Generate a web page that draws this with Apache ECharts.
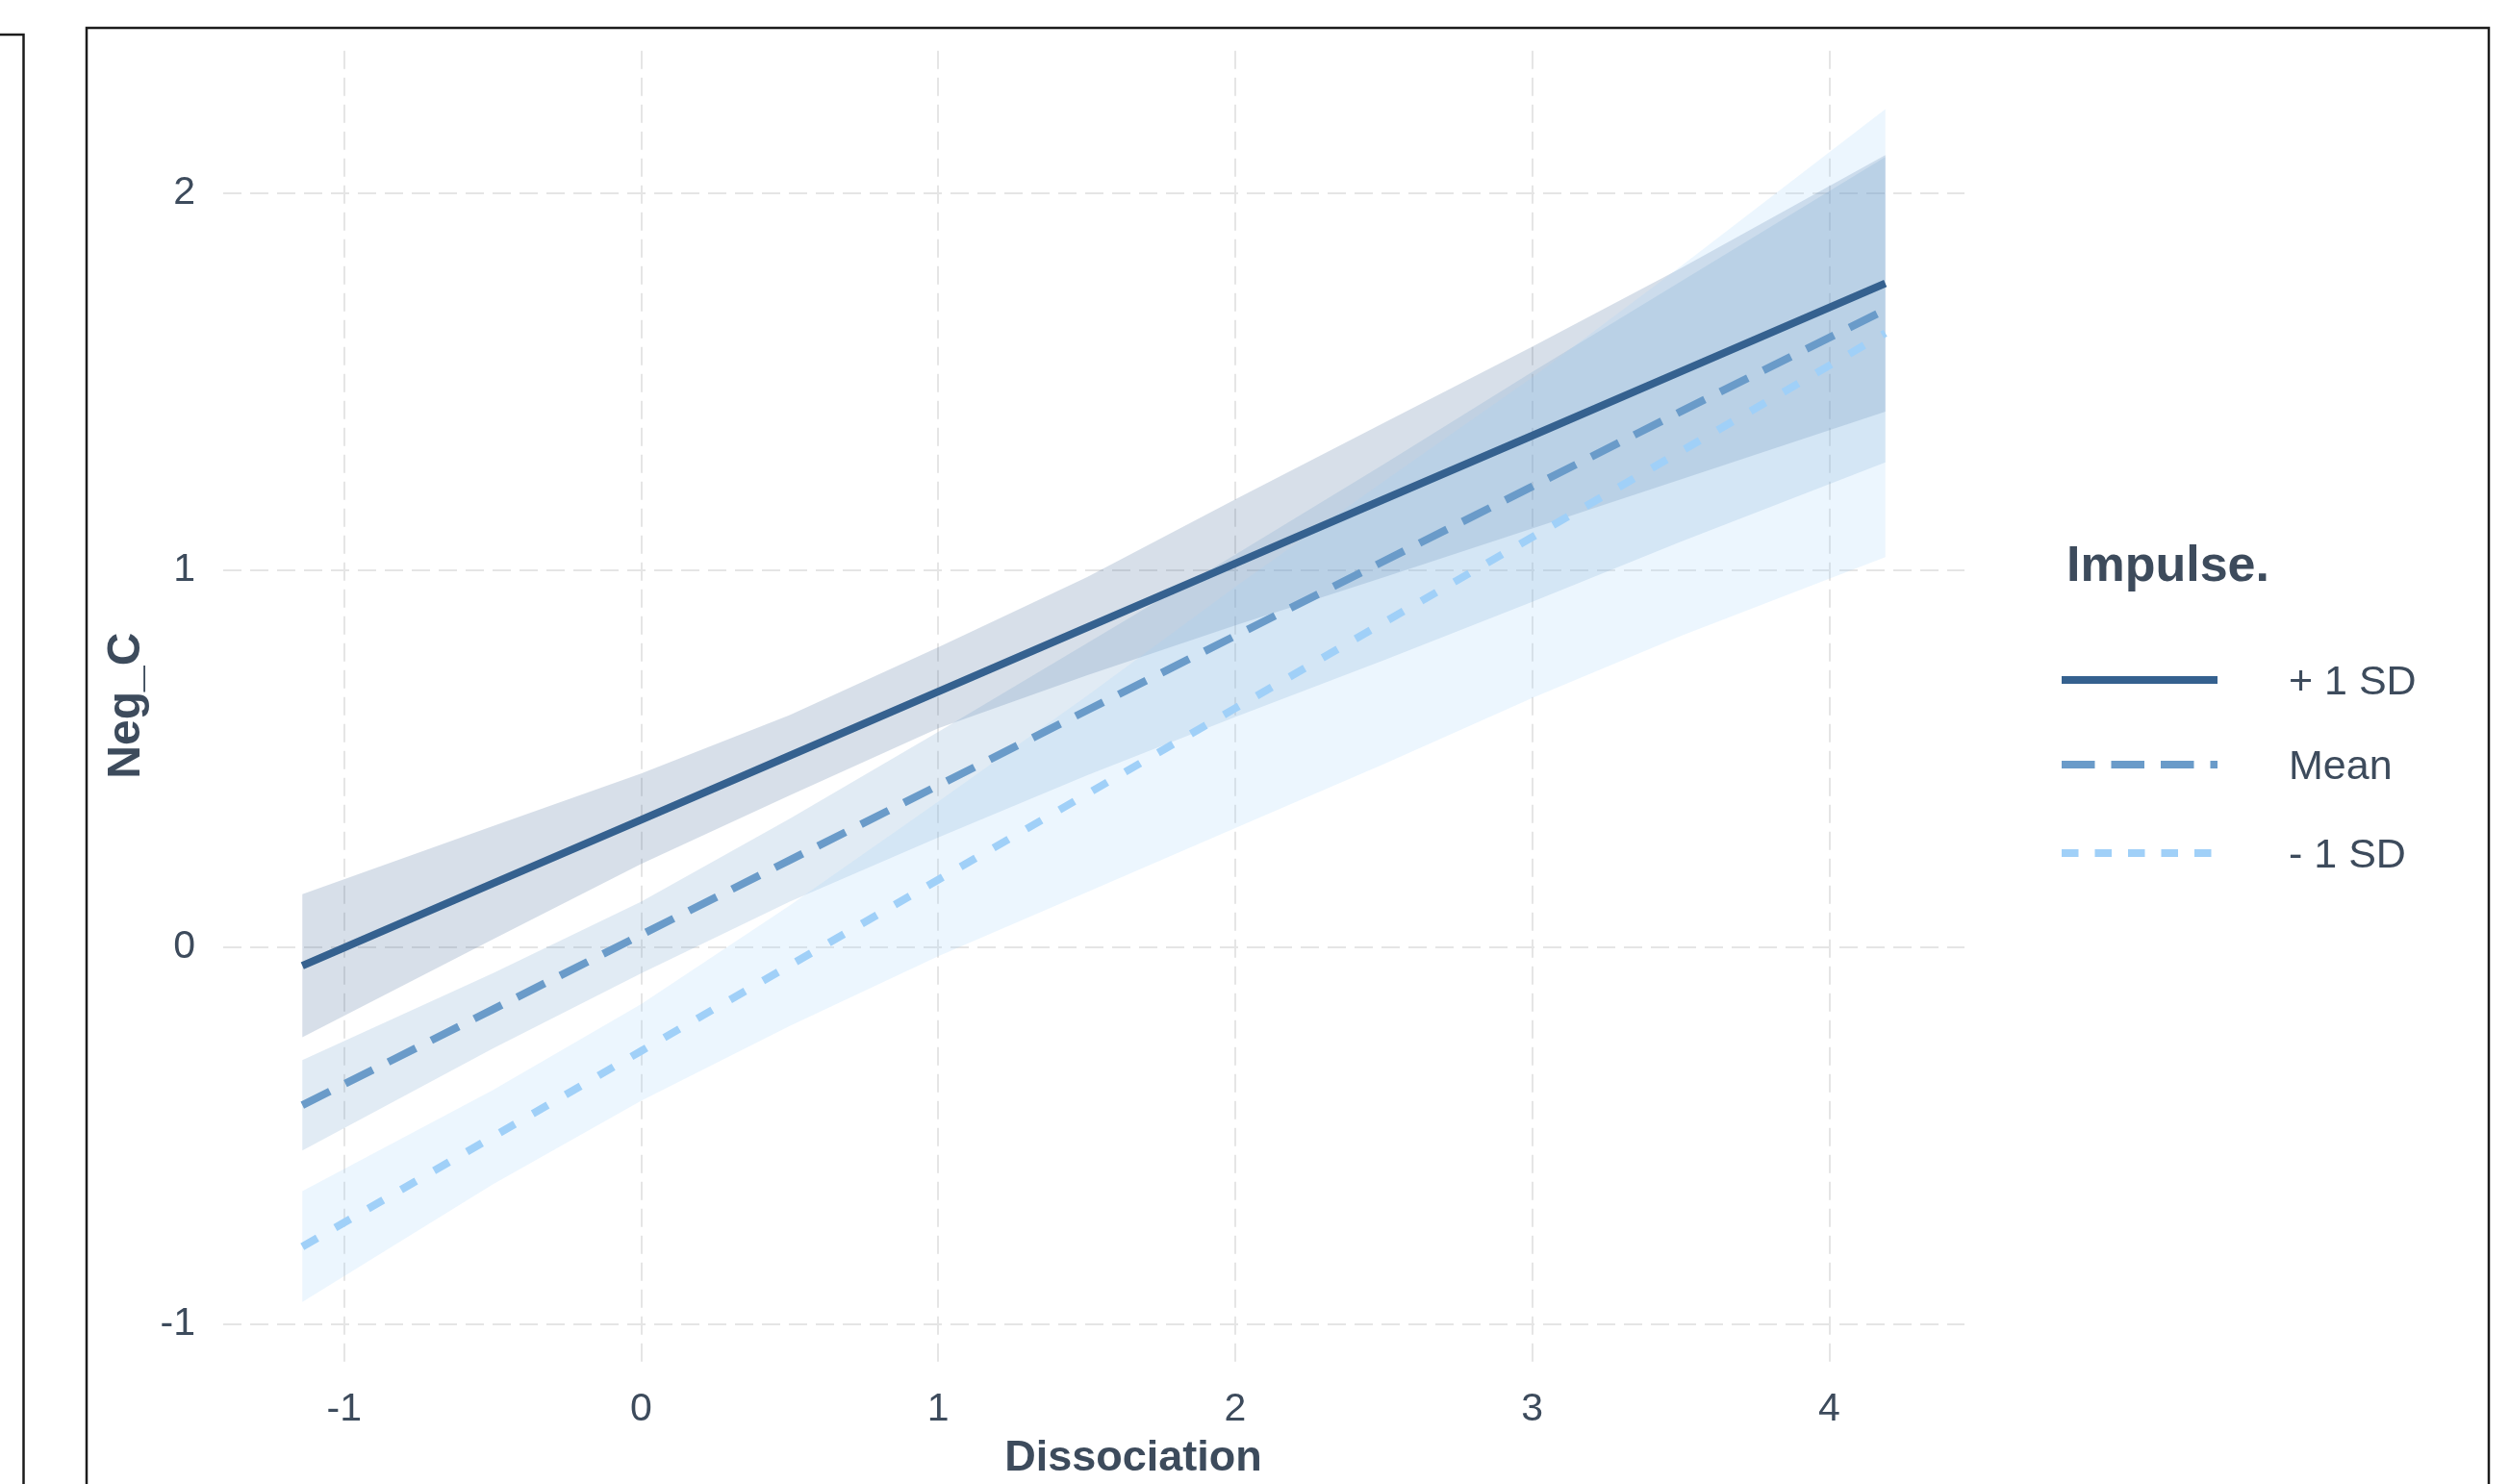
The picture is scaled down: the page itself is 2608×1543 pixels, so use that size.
<!DOCTYPE html>
<html>
<head>
<meta charset="utf-8">
<script src="https://cdn.jsdelivr.net/npm/echarts@6/dist/echarts.min.js"></script>
<style>
html,body{margin:0;padding:0;background:#ffffff;}
#chart{width:2608px;height:1543px;}
</style>
</head>
<body>
<div id="chart"></div>
<script>
// ---- data ----
const xVals      = [-1.141, -0.5, 0, 0.5, 1, 1.5, 2, 2.5, 3, 3.5, 4.189];

const hiLine     = [-0.05, 0.168, 0.337, 0.507, 0.677, 0.847, 1.017, 1.187, 1.356, 1.526, 1.76];
const hiUpper    = [0.14, 0.32, 0.46, 0.615, 0.795, 0.98, 1.187, 1.39, 1.592, 1.80, 2.10];
const hiLower    = [-0.24, 0.02, 0.22, 0.402, 0.58, 0.72, 0.853, 0.98, 1.11, 1.24, 1.42];

const meanLine   = [-0.42, -0.166, 0.032, 0.23, 0.428, 0.627, 0.825, 1.023, 1.221, 1.42, 1.69];
const meanUpper  = [-0.30, -0.07, 0.12, 0.34, 0.57, 0.805, 1.04, 1.28, 1.525, 1.765, 2.095];
const meanLower  = [-0.54, -0.27, -0.07, 0.12, 0.29, 0.455, 0.61, 0.76, 0.915, 1.075, 1.285];

const loLine     = [-0.795, -0.504, -0.276, -0.049, 0.178, 0.405, 0.633, 0.86, 1.087, 1.314, 1.628];
const loUpper    = [-0.648, -0.38, -0.152, 0.11, 0.385, 0.665, 0.955, 1.235, 1.51, 1.805, 2.222];
const loLower    = [-0.942, -0.63, -0.408, -0.21, -0.025, 0.145, 0.315, 0.485, 0.66, 0.825, 1.034];

const xTicks = [-1, 0, 1, 2, 3, 4];
const yTicks = [-1, 0, 1, 2];
const seriesNames = ['+ 1 SD', 'Mean', '- 1 SD'];
const legendTitle = 'Impulse.';
const xTitle = 'Dissociation';
const yTitle = 'Neg_C';

// ---- styling ----
const colHi = '#35618f', colMean = '#6a9bc9', colLo = '#a0d0f8';
const bandHi = 'rgba(53,97,143,0.2)', bandMean = 'rgba(106,155,201,0.2)', bandLo = 'rgba(160,208,248,0.2)';
const txt = '#3d4b5c';
const FONT = '"Liberation Sans", Arial, Helvetica, sans-serif';
const LW = 8;

function pairs(ys){ return xVals.map((x,i)=>[x, ys[i]]); }

function band(name, lower, upper, color){
  return {
    name: name, type: 'custom', z: 1, silent: true, animation: false,
    coordinateSystem: 'cartesian2d',
    data: xVals.map((x,i)=>[x, lower[i], upper[i]]),
    encode: {x: 0, y: [1, 2]},
    renderItem: function(params, api){
      if (params.dataIndex !== 0) return;
      const pts = [];
      for (let i = 0; i < xVals.length; i++) pts.push(api.coord([xVals[i], upper[i]]));
      for (let i = xVals.length - 1; i >= 0; i--) pts.push(api.coord([xVals[i], lower[i]]));
      return {type: 'polygon', shape: {points: pts}, style: {fill: color}};
    }
  };
}

function lineSeries(name, ys, color, dash, extra){
  const s = {
    name: name, type: 'line', z: 3, data: pairs(ys),
    showSymbol: false, symbol: 'none', smooth: false, silent: true, animation: false,
    lineStyle: {color: color, width: LW, type: dash, cap: 'butt'}
  };
  return Object.assign(s, extra || {});
}

const gridLineStyle = {color: '#e5e5e5', width: 2, type: [19, 9]};
const intFmt = v => (Math.abs(v - Math.round(v)) < 1e-9 ? String(Math.round(v)) : '');

const chart = echarts.init(document.getElementById('chart'), null, {renderer: 'canvas', width: 2608, height: 1543});

const legendX1 = 2143, legendX2 = 2305, legendTextX = 2379;
const legendRows = [
  {y: 707, ty: 710, color: colHi, dash: null},
  {y: 795, ty: 798, color: colMean, dash: [34.5, 17]},
  {y: 887, ty: 890, color: colLo, dash: [17.5, 17]}
];

const graphics = [
  // outer frames
  {type: 'rect', silent: true, z: 100, shape: {x: 90, y: 29, width: 2497, height: 1600},
   style: {fill: 'none', stroke: '#1c1c1c', lineWidth: 2.5}},
  {type: 'polyline', silent: true, z: 100, shape: {points: [[0, 36], [24.5, 36], [24.5, 1600]]},
   style: {fill: 'none', stroke: '#1c1c1c', lineWidth: 2.5}},
  // legend title
  {type: 'text', silent: true, z: 100, x: 2148, y: 590,
   style: {text: legendTitle, font: 'bold 52px ' + FONT, fill: txt, textAlign: 'left', textVerticalAlign: 'middle', verticalAlign: 'middle'}}
];
legendRows.forEach((r, i) => {
  graphics.push({type: 'line', silent: true, z: 100,
    shape: {x1: legendX1, y1: r.y, x2: legendX2, y2: r.y},
    style: {stroke: r.color, lineWidth: LW, lineDash: r.dash, lineCap: 'butt'}});
  graphics.push({type: 'text', silent: true, z: 100, x: legendTextX, y: r.ty,
    style: {text: seriesNames[i], font: '43px ' + FONT, fill: txt, textAlign: 'left', textVerticalAlign: 'middle', verticalAlign: 'middle'}});
});

chart.setOption({
  backgroundColor: '#ffffff',
  animation: false,
  textStyle: {fontFamily: FONT},
  grid: {left: 232, top: 51.5, width: 1810, height: 1364.3, outerBoundsMode: 'none', containLabel: false},
  xAxis: {
    type: 'value', min: -1.4075, max: 4.4555,
    axisLine: {show: false}, axisTick: {show: false, customValues: xTicks},
    splitLine: {show: false},
    axisLabel: {customValues: xTicks, formatter: intFmt, margin: 29, fontSize: 41, color: txt, fontFamily: FONT},
    name: xTitle, nameLocation: 'middle', nameGap: 78,
    nameTextStyle: {fontSize: 45, fontWeight: 'bold', color: txt, fontFamily: FONT, padding: [0, 0, 0, 82]}
  },
  yAxis: {
    type: 'value', min: -1.1002, max: 2.3802, splitNumber: 4,
    axisLine: {show: false}, axisTick: {show: false, customValues: yTicks},
    splitLine: {show: false},
    axisLabel: {customValues: yTicks, formatter: intFmt, margin: 29, fontSize: 41, color: txt, fontFamily: FONT},
    name: yTitle, nameLocation: 'middle', nameGap: 74, nameRotate: 90,
    nameTextStyle: {fontSize: 48, fontWeight: 'bold', color: txt, fontFamily: FONT}
  },
  series: [
    band('band + 1 SD', hiLower, hiUpper, bandHi),
    band('band Mean', meanLower, meanUpper, bandMean),
    band('band - 1 SD', loLower, loUpper, bandLo),
    lineSeries(seriesNames[0], hiLine, colHi, 'solid', {
      markLine: {
        z: 0, silent: true, animation: false, symbol: ['none', 'none'],
        label: {show: false}, emphasis: {disabled: true},
        lineStyle: gridLineStyle,
        data: xTicks.map(v => ({xAxis: v})).concat(yTicks.map(v => ({yAxis: v})))
      }
    }),
    lineSeries(seriesNames[1], meanLine, colMean, [32, 18]),
    lineSeries(seriesNames[2], loLine, colLo, [18, 21.5])
  ],
  graphic: graphics
});
</script>
</body>
</html>
